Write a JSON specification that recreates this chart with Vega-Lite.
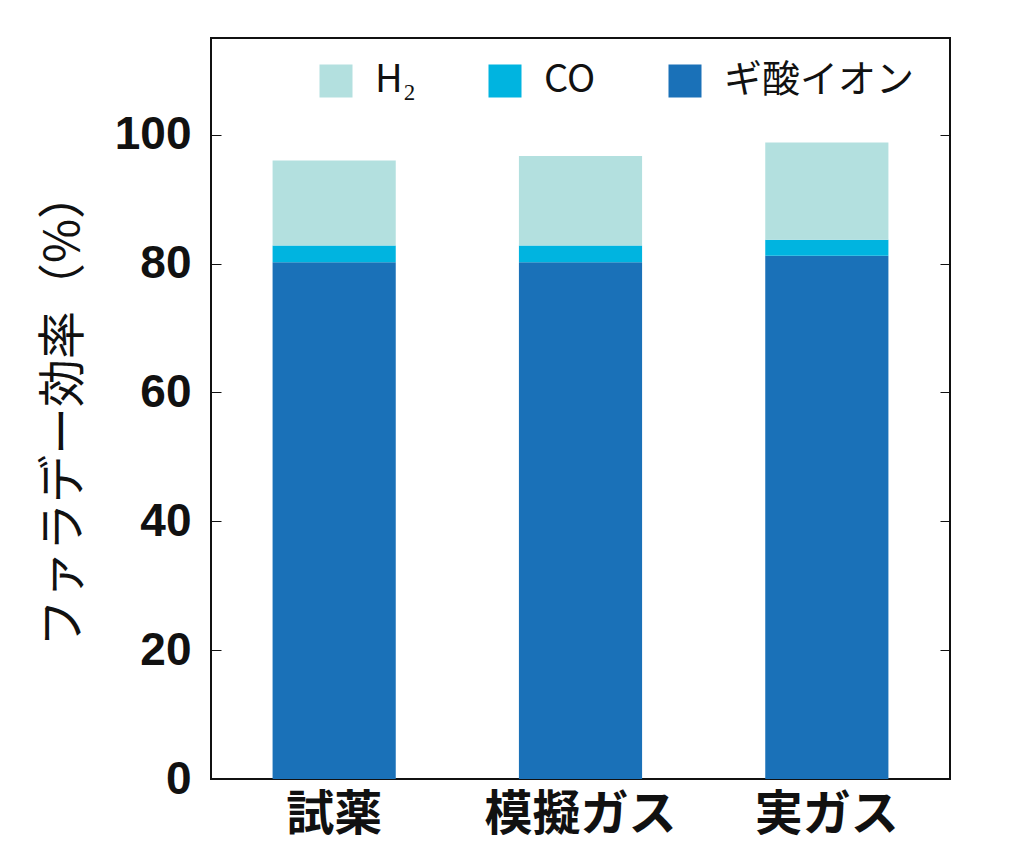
{
  "$schema": "https://vega.github.io/schema/vega-lite/v6.json",
  "description": "Faraday efficiency by gas source, stacked by product",
  "width": 739,
  "height": 741,
  "autosize": "none",
  "padding": {"left": 211, "top": 38, "right": 74, "bottom": 83},
  "data": {
    "values": [
      {"source": "試薬", "product": "ギ酸イオン", "order": 1, "value": 80.2},
      {"source": "試薬", "product": "CO", "order": 2, "value": 2.6},
      {"source": "試薬", "product": "H₂", "order": 3, "value": 13.2},
      {"source": "模擬ガス", "product": "ギ酸イオン", "order": 1, "value": 80.2},
      {"source": "模擬ガス", "product": "CO", "order": 2, "value": 2.6},
      {"source": "模擬ガス", "product": "H₂", "order": 3, "value": 13.9},
      {"source": "実ガス", "product": "ギ酸イオン", "order": 1, "value": 81.2},
      {"source": "実ガス", "product": "CO", "order": 2, "value": 2.5},
      {"source": "実ガス", "product": "H₂", "order": 3, "value": 15.1}
    ]
  },
  "encoding": {
    "x": {
      "field": "source",
      "type": "nominal",
      "sort": ["試薬", "模擬ガス", "実ガス"],
      "scale": {"paddingInner": 0.5, "paddingOuter": 0.25},
      "axis": {
        "title": null,
        "labelAngle": 0,
        "ticks": false,
        "domain": false,
        "labelFont": "Noto Sans CJK JP",
        "labelFontSize": 48,
        "labelFontWeight": "bold",
        "labelColor": "#111",
        "labelLimit": 0,
        "labelPadding": 12
      }
    }
  },
  "layer": [
    {
      "mark": {"type": "bar"},
      "encoding": {
        "y": {
          "field": "value",
          "type": "quantitative",
          "stack": "zero",
          "scale": {"domain": [0, 115], "nice": false},
          "axis": {
            "title": "ファラデー効率（%）",
            "titleFont": "Noto Sans CJK JP",
            "titleFontSize": 48,
            "titleFontWeight": "normal",
            "titleColor": "#111",
            "titlePadding": 26,
            "values": [0, 20, 40, 60, 80, 100],
            "grid": false,
            "domain": false,
            "tickSize": -10,
            "tickColor": "#111",
            "labelFont": "Liberation Sans",
            "labelFontSize": 46,
            "labelFontWeight": "bold",
            "labelColor": "#111",
            "labelPadding": 30
          }
        },
        "color": {
          "field": "product",
          "type": "nominal",
          "sort": ["H₂", "CO", "ギ酸イオン"],
          "scale": {
            "domain": ["H₂", "CO", "ギ酸イオン"],
            "range": ["#b3e0df", "#00b4e0", "#1a71b8"]
          },
          "legend": {
            "title": null,
            "orient": "none",
            "direction": "horizontal",
            "legendX": 106,
            "legendY": 24,
            "symbolType": "square",
            "symbolSize": 1089,
            "symbolStrokeWidth": 0,
            "labelFont": "Noto Sans CJK JP",
            "labelFontSize": 38,
            "labelColor": "#111",
            "labelLimit": 0,
            "labelOffset": 20,
            "columnPadding": 70
          }
        },
        "order": {"field": "order", "type": "quantitative"}
      }
    },
    {
      "mark": {"type": "tick", "opacity": 0},
      "encoding": {
        "y": {
          "field": "value",
          "type": "quantitative",
          "axis": {
            "title": null,
            "orient": "right",
            "values": [0, 20, 40, 60, 80, 100],
            "grid": false,
            "domain": false,
            "labels": false,
            "tickSize": -10,
            "tickColor": "#111"
          }
        }
      }
    }
  ],
  "resolve": {"axis": {"y": "independent"}},
  "config": {
    "view": {"stroke": "#111", "strokeWidth": 2}
  }
}
